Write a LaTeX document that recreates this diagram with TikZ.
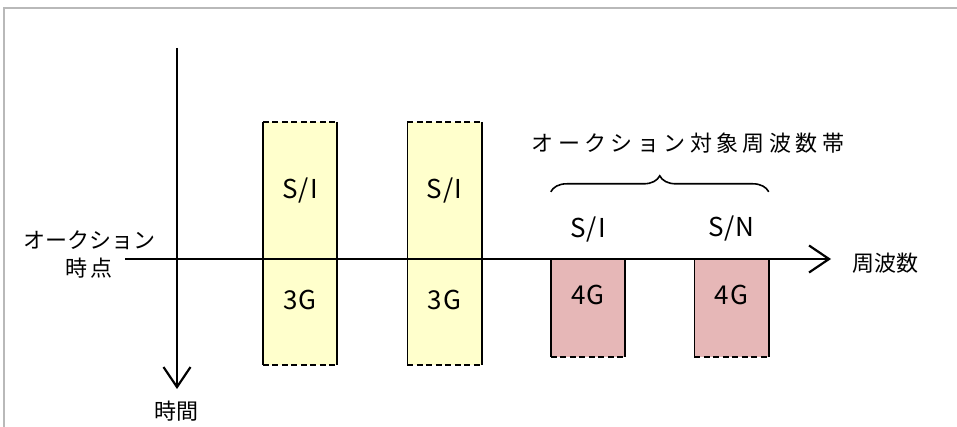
\documentclass[tikz,border=0pt]{standalone}
\usepackage{fontspec}
\setmainfont{Noto Sans CJK JP}
\usetikzlibrary{arrows.meta,positioning,decorations.pathreplacing}
\definecolor{bandyellow}{RGB}{255,255,204}
\definecolor{bandpink}{RGB}{230,183,183}

\begin{document}
\begin{tikzpicture}[
    x=1pt, y=-1pt,
    band/.style={rectangle, minimum width=74pt, inner sep=0pt, draw=none},
    jtext/.style={font=\fontsize{22}{24}\selectfont, inner sep=0pt},
    ltext/.style={font=\fontsize{26}{28}\selectfont\addfontfeature{LetterSpace=4}, inner sep=0pt},
    axis/.style={line width=2.2pt, -{Straight Barb[length=20pt,width=27pt,line width=2.2pt]}},
    edge/.style={line width=1.6pt},
    gap/.style={line width=1.6pt, dash pattern=on 6pt off 3.5pt}
]
\useasboundingbox (0,0) rectangle (957,427);

% Frame
\draw[gray!55, line width=1.8pt] (957,8) -- (4,8) -- (4,427);

% Bands
\node[band, fill=bandyellow, minimum height=243pt] (b1) at (300,243.5) {};
\node[band, fill=bandyellow, minimum height=243pt] (b2) at (444.5,243.5) {};
\node[band, fill=bandpink, minimum height=98pt] (b3) at (588,308) {};
\node[band, fill=bandpink, minimum height=98pt] (b4) at (731.5,308) {};

\foreach \b in {b1,b2,b3,b4} {
  \draw[edge] (\b.north west) -- (\b.south west);
  \draw[edge] (\b.north east) -- (\b.south east);
  \draw[gap] (\b.south west) -- (\b.south east);
}
\draw[gap] (b1.north west) -- (b1.north east);
\draw[gap] (b2.north west) -- (b2.north east);

% Axes
\coordinate (hstart) at (125,259);
\coordinate (hend) at (831,259);
\coordinate (vstart) at (177,48);
\coordinate (vend) at (177,389);
\draw[axis] (hstart) -- (hend);
\draw[axis] (vstart) -- (vend);

% Axis labels
\node[jtext] (freq) at (885,263) {周波数};
\node[jtext] (time) at (176,411) {時間};
\node[jtext] (when1) at (89,240) {オークション};
\node[jtext, below=8pt of when1] (when2) {時\,点};

% Band labels
\node[ltext] (si1) at (300,191) {S/I};
\node[ltext] (g1) at (300,300) {3G};
\node[ltext] (si2) at (444.5,191) {S/I};
\node[ltext] (g2) at (444.5,300) {3G};
\node[ltext] (g3) at (588,295) {4G};
\node[ltext] (g4) at (731.5,295) {4G};
\node[ltext] (si3) at (588,230) {S/I};
\node[ltext] (sn4) at (731.5,229) {S/N};

% Auction bands
\draw[edge, decorate, decoration={brace, amplitude=16pt}]
  ([yshift=67pt]b3.north west) -- ([yshift=67pt]b4.north east);
\node[jtext, font=\fontsize{22}{24}\selectfont\addfontfeature{LetterSpace=20}] (target) at (688,143) {オークション対象周波数帯};

\end{tikzpicture}
\end{document}
